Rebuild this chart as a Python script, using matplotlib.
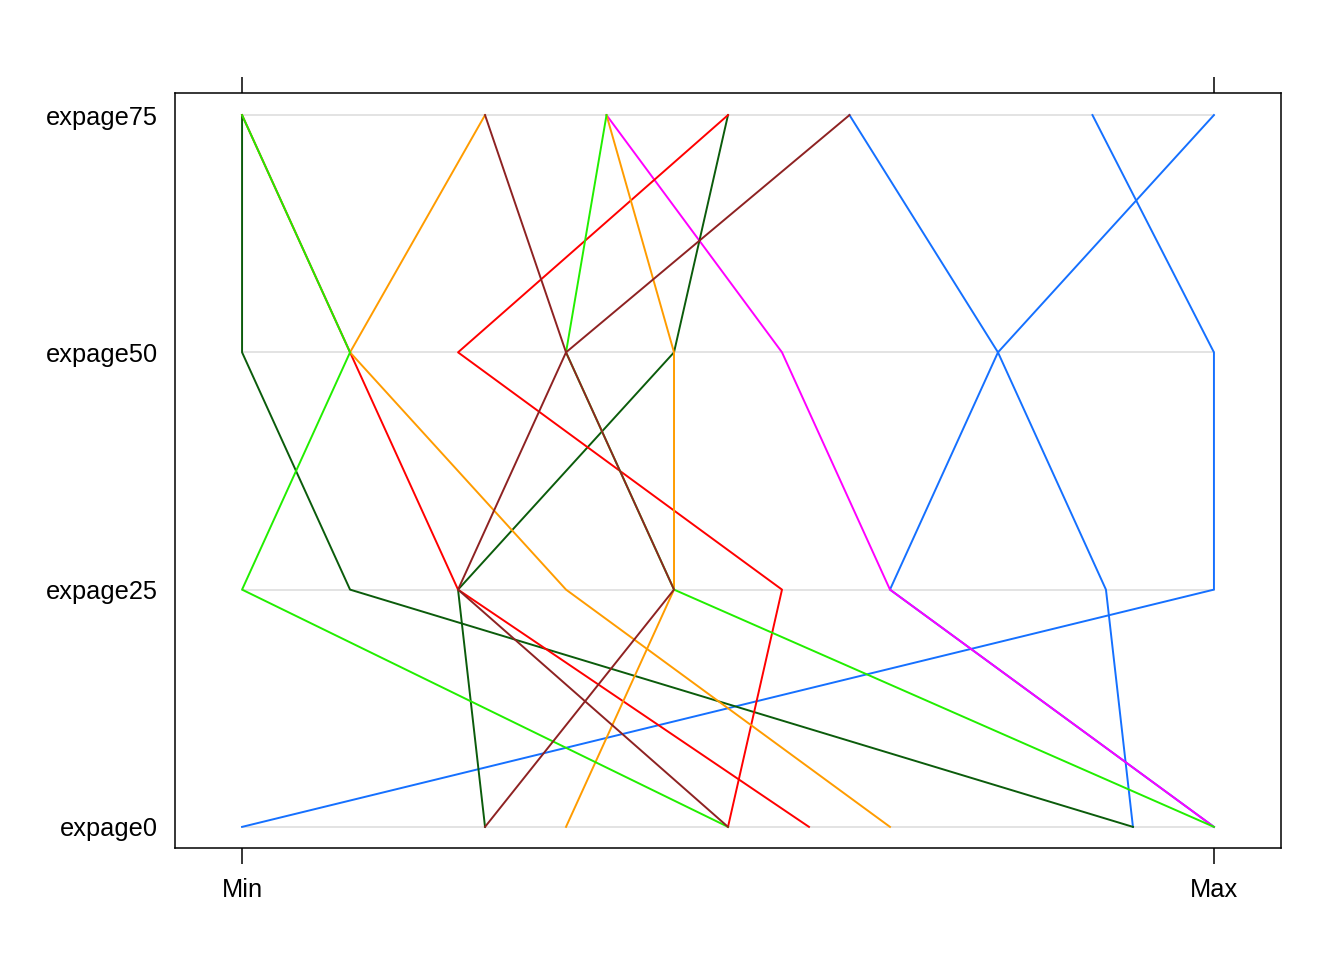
import numpy as np
import matplotlib
matplotlib.use("Agg")
import matplotlib.pyplot as plt

variables = ["expage0", "expage25", "expage50", "expage75"]
# raw values (each variable is scaled to its own min..max in the plot)
expage0 = [0, 11, 12, 12, 11, 3, 7, 6, 8, 4, 6, 12, 6, 3]
expage25 = [9, 8, 6, 6, 1, 2, 2, 5, 3, 4, 0, 4, 2, 4]
expage50 = [9, 7, 7, 5, 0, 4, 1, 2, 1, 4, 1, 3, 3, 3]
expage75 = [7, 5, 8, 3, 0, 4, 0, 4, 2, 3, 0, 3, 5, 2]
groups = [0, 0, 0, 1, 2, 2, 3, 3, 4, 4, 5, 5, 6, 6]
group_colors = ["#1570ff", "#ff00ff", "#0b5c0b", "#ff0000", "#ff9c00", "#22ee00", "#8e2222"]

plt.rcParams['font.family'] = ['Liberation Sans', 'DejaVu Sans']

fig = plt.figure(figsize=(13.44, 9.6), dpi=100)
ax = fig.add_axes([175/1344, 1-848/960, (1281-175)/1344, (848-93)/960])

data = np.array([expage0, expage25, expage50, expage75], dtype=float)
mins = data.min(axis=1, keepdims=True)
maxs = data.max(axis=1, keepdims=True)
scaled = (data - mins) / (maxs - mins)
ypos = np.arange(len(variables))

for j in ypos:
    ax.plot([0, 1], [j, j], color="#e3e3e3", lw=1.4, zorder=1)

for g in range(len(group_colors)):
    for i, gi in enumerate(groups):
        if gi == g:
            ax.plot(scaled[:, i], ypos, color=group_colors[g], lw=1.4, zorder=2)

ax.set_xlim(-0.069, 1.069)
ax.set_ylim(-0.089, 3.093)
ax.set_yticks(ypos)
ax.set_yticklabels(variables, fontsize=18.3)
ax.set_xticks([0, 1])
ax.set_xticklabels(["Min", "Max"], fontsize=18.3)
ax.tick_params(axis='y', length=0, pad=12)
ax.tick_params(axis='x', direction='out', length=11.5, width=1.1, pad=10,
               top=True, labeltop=False, bottom=True, labelbottom=True)
for sp in ax.spines.values():
    sp.set_linewidth(1.1)

fig.savefig("out.png", dpi=100)
